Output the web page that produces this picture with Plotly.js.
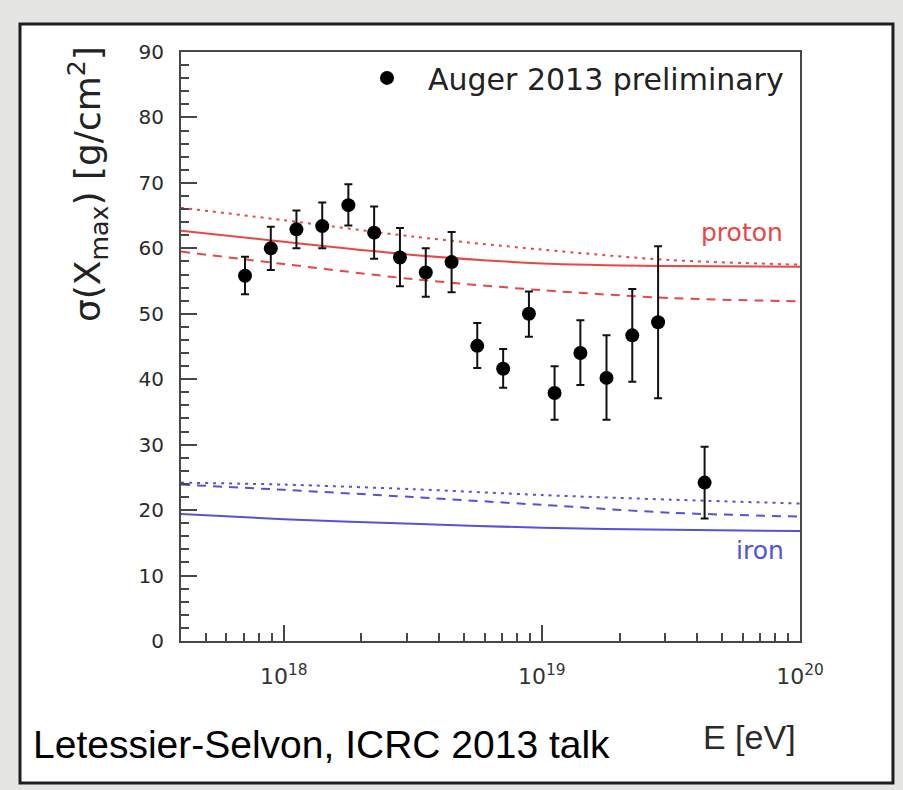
<!DOCTYPE html>
<html>
<head>
<meta charset="utf-8">
<script src="https://cdn.plot.ly/plotly-3.0.1.min.js"></script>
<style>html,body{margin:0;padding:0;background:#e5e5e3;}#chart{width:903px;height:790px;}</style>
</head>
<body>
<div id="chart"></div>
<script>
// ---- Data ----
// Auger 2013 preliminary: energy bin centres (eV)
var energy = [7.08e17, 8.91e17, 1.12e18, 1.41e18, 1.78e18, 2.24e18, 2.82e18, 3.55e18, 4.47e18,
              5.62e18, 7.08e18, 8.91e18, 1.12e19, 1.41e19, 1.78e19, 2.24e19, 2.82e19, 4.27e19];
var sigmaXmax = [55.8, 60.0, 62.9, 63.4, 66.6, 62.4, 58.6, 56.3, 57.9,
                 45.1, 41.6, 50.0, 37.9, 44.0, 40.2, 46.7, 48.7, 24.2];
var errUp   = [2.9, 3.3, 2.9, 3.6, 3.2, 4.0, 4.5, 3.7, 4.6, 3.5, 3.0, 3.4, 4.1, 5.0, 6.5, 7.1, 11.6, 5.5];
var errDown = [2.8, 3.3, 2.9, 3.4, 3.1, 4.0, 4.4, 3.7, 4.6, 3.4, 2.9, 3.5, 4.1, 4.9, 6.4, 7.1, 11.6, 5.5];

// Model predictions (energy grid in eV)
var modelE       = [4e17, 1e18, 3.16e18, 1e19, 3.16e19, 1e20];
var protonSolid  = [62.7, 61.0, 59.0, 57.7, 57.3, 57.2];
var protonDotted = [66.2, 64.3, 61.8, 59.8, 58.2, 57.5];
var protonDashed = [59.5, 57.6, 55.3, 53.6, 52.4, 51.9];
var ironSolid    = [19.4, 18.6, 17.9, 17.3, 17.0, 16.8];
var ironDashed   = [23.9, 23.1, 22.0, 20.8, 19.6, 19.0];
var ironDotted   = [24.2, 23.9, 23.2, 22.3, 21.6, 21.0];

// Axis ticks
var xMajorTicks  = [1e18, 1e19, 1e20];
var xMajorLabels = ['10<sup>18</sup>', '10<sup>19</sup>', '10<sup>20</sup>'];
var xMinorTicks  = [5e17, 6e17, 7e17, 8e17, 9e17,
                    2e18, 3e18, 4e18, 5e18, 6e18, 7e18, 8e18, 9e18,
                    2e19, 3e19, 4e19, 5e19, 6e19, 7e19, 8e19, 9e19];
var xRangeLog = [Math.log10(4e17), 20];

// ---- Styles ----
var RED = '#ea4646', BLUE = '#5252dc', AX = '#474747';
var DOT = '3px,5px', DASH = '9px,7px';

function modelTrace(y, color, dash) {
  return {x: modelE, y: y, type: 'scatter', mode: 'lines',
          line: {color: color, width: 2, dash: dash, shape: 'spline', smoothing: 0.8},
          showlegend: false, hoverinfo: 'skip'};
}

var traces = [
  modelTrace(protonDotted, RED, DOT),
  modelTrace(protonSolid, RED, 'solid'),
  modelTrace(protonDashed, RED, DASH),
  modelTrace(ironDotted, BLUE, DOT),
  modelTrace(ironDashed, BLUE, DASH),
  modelTrace(ironSolid, BLUE, 'solid'),
  {x: energy, y: sigmaXmax, type: 'scatter', mode: 'markers', name: 'Auger 2013 preliminary',
   marker: {color: '#000', size: 14},
   error_y: {type: 'data', symmetric: false, array: errUp, arrayminus: errDown,
             color: '#111', thickness: 2, width: 4},
   showlegend: true},
  // carrier for the minor-tick overlay axis (draws nothing)
  {x: energy, y: sigmaXmax, xaxis: 'x2', type: 'scatter', mode: 'none', showlegend: false, hoverinfo: 'skip'}
];

var layout = {
  width: 903, height: 790,
  margin: {l: 181, r: 103, t: 52, b: 149},
  paper_bgcolor: '#e5e5e3',
  plot_bgcolor: '#ffffff',
  showlegend: true,
  legend: {x: 0.2666, y: 0.956, xanchor: 'left', yanchor: 'middle', bgcolor: 'rgba(0,0,0,0)',
           font: {family: 'DejaVu Sans', size: 30, color: '#222'}, itemwidth: 72},
  xaxis: {type: 'log', range: xRangeLog, tickmode: 'array', tickvals: xMajorTicks, ticktext: xMajorLabels,
          ticks: 'inside', ticklen: 16, tickwidth: 2, tickcolor: AX,
          showline: true, linecolor: AX, linewidth: 2, mirror: true,
          showgrid: false, zeroline: false,
          tickfont: {family: 'DejaVu Sans', size: 22, color: '#333'}, ticklabelstandoff: 15},
  xaxis2: {type: 'log', range: xRangeLog, overlaying: 'x', anchor: 'y', side: 'bottom',
           tickmode: 'array', tickvals: xMinorTicks, ticks: 'inside', ticklen: 8, tickwidth: 2,
           tickcolor: AX, showticklabels: false, showline: false, showgrid: false, zeroline: false},
  yaxis: {range: [0, 90], tick0: 0, dtick: 10, ticks: 'inside', ticklen: 16, tickwidth: 2, tickcolor: AX,
          minor: {dtick: 2, ticks: 'inside', ticklen: 8, tickwidth: 2, tickcolor: AX, showgrid: false},
          showline: true, linecolor: AX, linewidth: 2, mirror: true,
          showgrid: false, zeroline: false,
          tickfont: {family: 'DejaVu Sans', size: 20, color: '#2a2a2a'}, ticklabelstandoff: 11},
  shapes: [
    {type: 'rect', xref: 'paper', yref: 'paper', x0: -0.2601, x1: 1.1502, y0: -0.2411, y1: 1.0475,
     fillcolor: '#ffffff', line: {color: '#1e1e1e', width: 3}, layer: 'below'}
  ],
  annotations: [
    {text: 'σ(X<sub>max</sub>) [g/cm<sup>2</sup>]', textangle: -90, xref: 'paper', yref: 'paper',
     x: (88 - 181) / 619, y: (641 - 184) / 589, xanchor: 'center', yanchor: 'middle', showarrow: false,
     font: {family: 'DejaVu Sans', size: 36, color: '#222'}},
    {text: 'proton', xref: 'paper', yref: 'y', x: (742 - 181) / 619, y: 62.4,
     xanchor: 'center', yanchor: 'middle', showarrow: false,
     font: {family: 'DejaVu Sans', size: 25, color: RED}},
    {text: 'iron', xref: 'paper', yref: 'y', x: (760 - 181) / 619, y: 13.8,
     xanchor: 'center', yanchor: 'middle', showarrow: false,
     font: {family: 'DejaVu Sans', size: 25, color: BLUE}},
    {text: 'E [eV]', xref: 'paper', yref: 'paper', x: (749 - 181) / 619, y: (641 - 737) / 589,
     xanchor: 'center', yanchor: 'middle', showarrow: false,
     font: {family: 'Liberation Sans', size: 34, color: '#2a2a2a'}},
    {text: 'Letessier-Selvon, ICRC 2013 talk', xref: 'paper', yref: 'paper', x: (31 - 181) / 619, y: (641 - 744) / 589,
     xanchor: 'left', yanchor: 'middle', showarrow: false,
     font: {family: 'Liberation Sans', size: 39, color: '#000'}}
  ]
};

Plotly.newPlot('chart', traces, layout, {displayModeBar: false, staticPlot: true});
</script>
</body>
</html>
